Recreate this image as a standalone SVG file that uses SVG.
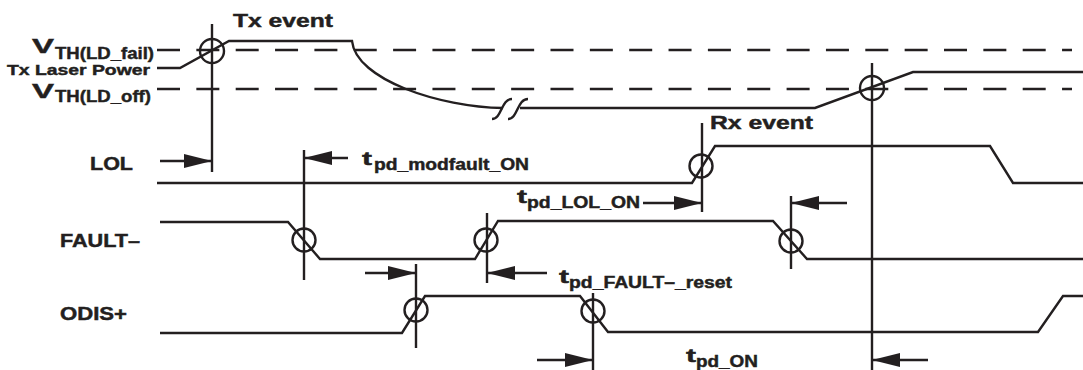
<svg xmlns="http://www.w3.org/2000/svg" width="1083" height="370" viewBox="0 0 1083 370">
<style>
.sig{fill:none;stroke:#231f20;stroke-width:2.4;stroke-linejoin:miter}
.dash{fill:none;stroke:#231f20;stroke-width:2.7;stroke-dasharray:23 16.35}
.mk{fill:none;stroke:#231f20;stroke-width:2.4}
.ar{fill:none;stroke:#231f20;stroke-width:2.4}
text{font-family:"Liberation Sans",Arial,sans-serif;font-weight:bold;fill:#231f20;stroke:#231f20;stroke-width:0.45}
.lb{font-size:18px}
.t{font-size:19px}
.sub{font-size:16px}
</style>
<defs>
<marker id="ah" markerWidth="28" markerHeight="14" refX="27" refY="7" orient="auto" markerUnits="userSpaceOnUse">
<path d="M0,0 L28,7 L0,14 Z" fill="#231f20"/>
</marker>
</defs>
<rect width="1083" height="370" fill="#fff"/>

<g id="thresholds">
<line class="dash" x1="157" y1="50" x2="1072" y2="50"/>
<line class="dash" x1="157" y1="89" x2="1072" y2="89"/>
</g>

<g id="laser">
<path class="sig" d="M157,68 H180 L229,41 H352 C356,80 440,107 503,108"/>
<path class="sig" d="M492,119 C502,119 501,99 512,99"/>
<path class="sig" d="M508,119 C518,119 517,99 528,99"/>
<path class="sig" d="M520,108 H815 L913,72 H1083"/>
</g>

<g id="lol">
<path class="sig" d="M157,183 H692 L715,146 H990 L1013,183 H1083"/>
</g>

<g id="fault">
<path class="sig" d="M160,222 H288 L320,259 H475 L498,221 H773 L807,259 H1083"/>
</g>

<g id="odis">
<path class="sig" d="M160,333 H402 L425,296 H580 L608,332 H1038 L1063,296 H1083"/>
</g>

<g id="markers">
<line class="mk" x1="212" y1="24" x2="212" y2="172"/>
<circle class="mk" cx="212" cy="51" r="12"/>
<line class="mk" x1="304" y1="150" x2="304" y2="280"/>
<circle class="mk" cx="304" cy="240" r="11.5"/>
<line class="mk" x1="487" y1="213" x2="487" y2="283"/>
<circle class="mk" cx="486" cy="240" r="11.5"/>
<line class="mk" x1="702" y1="123" x2="702" y2="212"/>
<circle class="mk" cx="701" cy="166" r="11.5"/>
<line class="mk" x1="791" y1="196" x2="791" y2="269"/>
<circle class="mk" cx="791" cy="241" r="11.5"/>
<line class="mk" x1="416" y1="264" x2="416" y2="348"/>
<circle class="mk" cx="416" cy="310" r="11.5"/>
<line class="mk" x1="593" y1="293" x2="593" y2="370"/>
<circle class="mk" cx="593" cy="311" r="11.5"/>
<line class="mk" x1="872" y1="63" x2="872" y2="370"/>
<circle class="mk" cx="872" cy="88" r="12"/>
</g>

<g id="connectors">
<line class="ar" x1="160" y1="161" x2="211" y2="161" marker-end="url(#ah)"/>
<line class="ar" x1="348" y1="158" x2="305" y2="158" marker-end="url(#ah)"/>
<line class="ar" x1="643" y1="203" x2="701" y2="203" marker-end="url(#ah)"/>
<line class="ar" x1="847" y1="203" x2="792" y2="203" marker-end="url(#ah)"/>
<line class="ar" x1="365" y1="273" x2="415" y2="273" marker-end="url(#ah)"/>
<line class="ar" x1="547" y1="273" x2="488" y2="273" marker-end="url(#ah)"/>
<line class="ar" x1="537" y1="360" x2="592" y2="360" marker-end="url(#ah)"/>
<line class="ar" x1="928" y1="360" x2="873" y2="360" marker-end="url(#ah)"/>
</g>

<g id="labels">
<text class="t" x="233" y="27" textLength="100" lengthAdjust="spacingAndGlyphs">Tx event</text>
<text x="32" y="53" font-size="21" textLength="22" lengthAdjust="spacingAndGlyphs">V</text>
<text x="55" y="59" font-size="17" textLength="99" lengthAdjust="spacingAndGlyphs">TH(LD_fail)</text>
<text x="7" y="75" font-size="15" textLength="143" lengthAdjust="spacingAndGlyphs">Tx Laser Power</text>
<text x="32" y="98" font-size="21" textLength="22" lengthAdjust="spacingAndGlyphs">V</text>
<text x="55" y="102" font-size="17" textLength="96" lengthAdjust="spacingAndGlyphs">TH(LD_off)</text>
<text class="lb" x="90" y="170" textLength="43" lengthAdjust="spacingAndGlyphs">LOL</text>
<text class="lb" x="60" y="247" textLength="80" lengthAdjust="spacingAndGlyphs">FAULT–</text>
<text class="lb" x="60" y="320" textLength="67" lengthAdjust="spacingAndGlyphs">ODIS+</text>
<text class="t" x="710" y="129" textLength="103" lengthAdjust="spacingAndGlyphs">Rx event</text>
<text class="t" x="362" y="165" textLength="10" lengthAdjust="spacingAndGlyphs">t</text>
<text class="sub" x="374" y="170" textLength="155" lengthAdjust="spacingAndGlyphs">pd_modfault_ON</text>
<text class="t" x="517" y="203" textLength="10" lengthAdjust="spacingAndGlyphs">t</text>
<text class="sub" x="527" y="208" textLength="113" lengthAdjust="spacingAndGlyphs">pd_LOL_ON</text>
<text class="t" x="559" y="283" textLength="10" lengthAdjust="spacingAndGlyphs">t</text>
<text class="sub" x="569" y="288" textLength="163" lengthAdjust="spacingAndGlyphs">pd_FAULT–_reset</text>
<text class="t" x="686" y="362" textLength="10" lengthAdjust="spacingAndGlyphs">t</text>
<text class="sub" x="696" y="367" textLength="62" lengthAdjust="spacingAndGlyphs">pd_ON</text>
</g>
</svg>
